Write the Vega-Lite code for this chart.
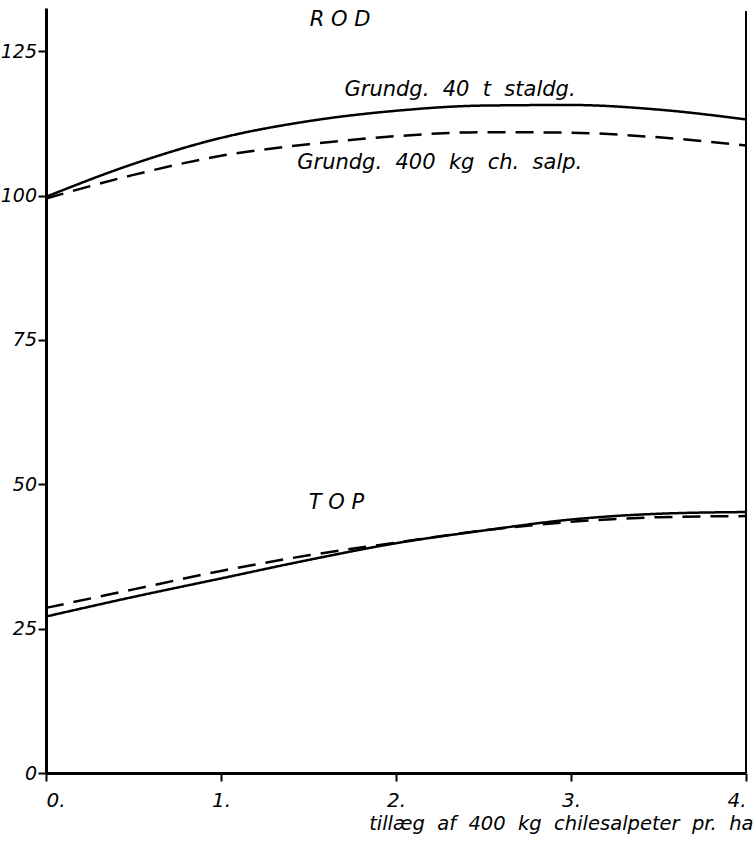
{
  "$schema": "https://vega.github.io/schema/vega-lite/v6.json",
  "autosize": "none",
  "width": 700,
  "height": 765,
  "padding": {"left": 46, "top": 8, "right": 9, "bottom": 88},
  "background": "white",
  "config": {
    "view": {"stroke": null},
    "axis": {"grid": false, "domainColor": "black", "domainWidth": 3, "tickColor": "black", "tickWidth": 2, "labelFont": "DejaVu Sans", "labelFontStyle": "italic", "labelColor": "black", "labelFontSize": 20, "titleFont": "DejaVu Sans", "titleFontStyle": "italic", "titleFontWeight": "normal", "titleColor": "black"}
  },
  "datasets": {
    "curves": [
      {"x": 0, "y": 99.8, "serie": "ROD staldg", "kind": "solid"},
      {"x": 0.5, "y": 105.5, "serie": "ROD staldg", "kind": "solid"},
      {"x": 1, "y": 110.0, "serie": "ROD staldg", "kind": "solid"},
      {"x": 1.5, "y": 112.9, "serie": "ROD staldg", "kind": "solid"},
      {"x": 2, "y": 114.7, "serie": "ROD staldg", "kind": "solid"},
      {"x": 2.5, "y": 115.6, "serie": "ROD staldg", "kind": "solid"},
      {"x": 3, "y": 115.7, "serie": "ROD staldg", "kind": "solid"},
      {"x": 3.5, "y": 114.9, "serie": "ROD staldg", "kind": "solid"},
      {"x": 4, "y": 113.2, "serie": "ROD staldg", "kind": "solid"},
      {"x": 0, "y": 99.5, "serie": "ROD salp", "kind": "dashed"},
      {"x": 0.5, "y": 103.6, "serie": "ROD salp", "kind": "dashed"},
      {"x": 1, "y": 106.9, "serie": "ROD salp", "kind": "dashed"},
      {"x": 1.5, "y": 108.9, "serie": "ROD salp", "kind": "dashed"},
      {"x": 2, "y": 110.3, "serie": "ROD salp", "kind": "dashed"},
      {"x": 2.5, "y": 111.0, "serie": "ROD salp", "kind": "dashed"},
      {"x": 3, "y": 110.9, "serie": "ROD salp", "kind": "dashed"},
      {"x": 3.5, "y": 110.1, "serie": "ROD salp", "kind": "dashed"},
      {"x": 4, "y": 108.7, "serie": "ROD salp", "kind": "dashed"},
      {"x": 0, "y": 27.1, "serie": "TOP staldg", "kind": "solid"},
      {"x": 0.5, "y": 30.5, "serie": "TOP staldg", "kind": "solid"},
      {"x": 1, "y": 33.7, "serie": "TOP staldg", "kind": "solid"},
      {"x": 1.5, "y": 36.9, "serie": "TOP staldg", "kind": "solid"},
      {"x": 2, "y": 39.8, "serie": "TOP staldg", "kind": "solid"},
      {"x": 2.5, "y": 42.0, "serie": "TOP staldg", "kind": "solid"},
      {"x": 3, "y": 43.9, "serie": "TOP staldg", "kind": "solid"},
      {"x": 3.5, "y": 44.9, "serie": "TOP staldg", "kind": "solid"},
      {"x": 4, "y": 45.2, "serie": "TOP staldg", "kind": "solid"},
      {"x": 0, "y": 28.6, "serie": "TOP salp", "kind": "dashed"},
      {"x": 0.5, "y": 31.8, "serie": "TOP salp", "kind": "dashed"},
      {"x": 1, "y": 35.0, "serie": "TOP salp", "kind": "dashed"},
      {"x": 1.5, "y": 37.7, "serie": "TOP salp", "kind": "dashed"},
      {"x": 2, "y": 39.9, "serie": "TOP salp", "kind": "dashed"},
      {"x": 2.5, "y": 42.0, "serie": "TOP salp", "kind": "dashed"},
      {"x": 3, "y": 43.5, "serie": "TOP salp", "kind": "dashed"},
      {"x": 3.5, "y": 44.3, "serie": "TOP salp", "kind": "dashed"},
      {"x": 4, "y": 44.5, "serie": "TOP salp", "kind": "dashed"}
    ],
    "labels": [
      {"x": 1.68, "y": 130.5, "label": "R O D", "size": 21},
      {"x": 1.66, "y": 46.8, "label": "T O P", "size": 21},
      {"x": 2.366, "y": 118.3, "label": "Grundg.\u00a0 40\u00a0 t\u00a0 staldg.", "size": 21},
      {"x": 2.25, "y": 105.6, "label": "Grundg.\u00a0 400\u00a0 kg\u00a0 ch.\u00a0 salp.", "size": 21}
    ],
    "border": [{"x": 4, "y": 0, "y2": 132}]
  },
  "layer": [
    {
      "data": {"name": "border"},
      "mark": {"type": "rule", "color": "black", "strokeWidth": 2},
      "encoding": {
        "x": {"field": "x", "type": "quantitative", "scale": {"domain": [0, 4]}},
        "y": {"field": "y", "type": "quantitative"},
        "y2": {"field": "y2"}
      }
    },
    {
      "data": {"name": "curves"},
      "mark": {"type": "line", "interpolate": "monotone", "color": "black", "strokeWidth": 2.5},
      "encoding": {
        "x": {
          "field": "x", "type": "quantitative",
          "scale": {"domain": [0, 4], "nice": false},
          "axis": {"values": [0, 1, 2, 3, 4], "labelExpr": "datum.value + '.'", "tickSize": 8, "labelPadding": 9, "labelFontSize": 20, "title": "tillæg\u00a0 af\u00a0 400\u00a0 kg\u00a0 chilesalpeter\u00a0 pr.\u00a0 ha", "titleFontSize": 19.5, "titleAnchor": "end", "titleAlign": "right", "titleX": 707, "titleY": 56, "titleBaseline": "alphabetic",
            "encoding": {"ticks": {"update": {"y2": {"value": -8}}}}}
        },
        "y": {
          "field": "y", "type": "quantitative",
          "scale": {"domain": [0, 132.5], "nice": false},
          "axis": {"values": [0, 25, 50, 75, 100, 125], "tickSize": 8, "labelPadding": 1.5, "labelFontSize": 19, "title": null,
            "encoding": {"ticks": {"update": {"x2": {"value": 8}}}}}
        },
        "detail": {"field": "serie"},
        "strokeDash": {"field": "kind", "type": "nominal", "scale": {"domain": ["solid", "dashed"], "range": [[1, 0], [18, 10]]}, "legend": null}
      }
    },
    {
      "data": {"name": "labels"},
      "mark": {"type": "text", "font": "DejaVu Sans", "fontStyle": "italic", "color": "black", "align": "center", "baseline": "middle"},
      "encoding": {
        "x": {"field": "x", "type": "quantitative"},
        "y": {"field": "y", "type": "quantitative"},
        "text": {"field": "label"},
        "size": {"field": "size", "type": "quantitative", "scale": null}
      }
    }
  ]
}
